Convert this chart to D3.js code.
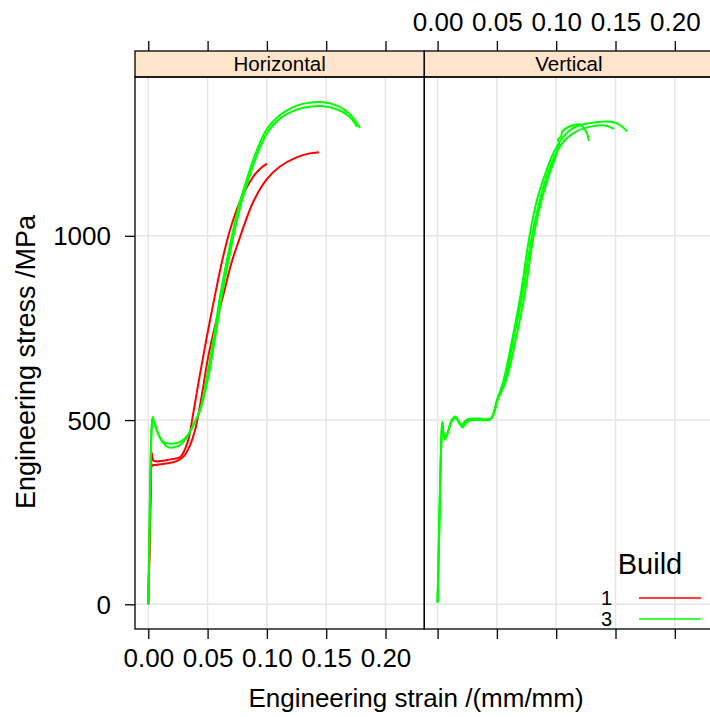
<!DOCTYPE html>
<html lang="en">
    <head>
       <meta charset="utf-8">
       <script src="https://d3js.org/d3.v7.min.js"></script>
       <style>
          body { margin: 0; background: white; }
          text { font-family: "Liberation Sans", Arial, sans-serif; }
       </style>
    </head>
    <body>
        <script>
            var width  = 710;
            var height = 717;

            // panels and legend
            var panels = [ 'Horizontal', 'Vertical' ];
            var builds = [ '1', '3' ];
            var build_colours = [ '#FF0000', '#00FF00' ];

            var x_ticks = [ 0.00, 0.05, 0.10, 0.15, 0.20 ];
            var y_ticks = [ 0, 500, 1000 ];

            // specimens, [strain, stress]
            var horiz_b1_a = [[0,0],[0.001,150],[0.002,330],[0.0025,385],[0.003,411],[0.004,392],[0.006,388],[0.01,389],[0.015,391],[0.02,394],[0.027,400],[0.033,438],[0.038,520],[0.043,614],[0.049,720],[0.056,835],[0.0625,935],[0.0689,1016],[0.0773,1093],[0.0886,1161],[0.095,1184],[0.100,1196]];
            var horiz_b1_b = [[0,0],[0.001,140],[0.002,300],[0.003,376],[0.006,378],[0.01,380],[0.015,382],[0.02,385],[0.025,390],[0.03,402],[0.035,430],[0.04,480],[0.045,565],[0.0506,673],[0.057,765],[0.063,836],[0.07,925],[0.0775,998],[0.0886,1093],[0.0998,1153],[0.111,1188],[0.125,1213],[0.135,1223],[0.144,1227]];
            var horiz_b3_a = [[0,0],[0.001,200],[0.002,400],[0.003,490],[0.0037,508],[0.005,495],[0.008,465],[0.012,440],[0.017,426],[0.022,426],[0.027,433],[0.032,450],[0.0366,478],[0.0436,526],[0.049,609],[0.055,720],[0.0605,836],[0.066,930],[0.0717,1017],[0.077,1090],[0.083,1153],[0.09,1220],[0.0998,1289],[0.11,1325],[0.12,1346],[0.13,1358],[0.146,1363],[0.16,1352],[0.17,1330],[0.1785,1293]];
            var horiz_b3_b = [[0,0],[0.001,190],[0.002,390],[0.003,480],[0.004,500],[0.006,485],[0.009,458],[0.013,440],[0.018,436],[0.023,437],[0.028,443],[0.033,458],[0.038,486],[0.0445,535],[0.0505,615],[0.0565,725],[0.062,836],[0.0675,930],[0.073,1017],[0.0785,1090],[0.0845,1153],[0.092,1222],[0.101,1283],[0.111,1318],[0.121,1337],[0.132,1348],[0.146,1352],[0.16,1342],[0.17,1322],[0.176,1296]];

            var vert_b3_a = [[0,5],[0.001,150],[0.002,300],[0.003,430],[0.0039,496],[0.0048,468],[0.0062,446],[0.009,470],[0.012,500],[0.015,510],[0.018,495],[0.0209,483],[0.0235,495],[0.0264,501],[0.035,502],[0.0447,503],[0.0501,555],[0.0557,609],[0.063,720],[0.07,840],[0.0775,1000],[0.084,1100],[0.091,1170],[0.097,1220],[0.104,1260],[0.112,1288],[0.122,1302],[0.133,1308],[0.143,1310],[0.152,1304],[0.1598,1284]];
            var vert_b3_b = [[0,5],[0.001,145],[0.002,295],[0.003,425],[0.0041,490],[0.005,462],[0.0065,450],[0.0095,476],[0.0125,503],[0.0155,506],[0.0185,490],[0.021,480],[0.024,492],[0.027,499],[0.035,500],[0.0445,502],[0.0505,556],[0.057,609],[0.064,720],[0.0715,840],[0.0795,1000],[0.0865,1100],[0.093,1170],[0.1,1225],[0.108,1262],[0.118,1285],[0.13,1297],[0.14,1300],[0.149,1290]];
            var vert_b3_c = [[0,5],[0.001,155],[0.002,305],[0.003,432],[0.0038,492],[0.0047,472],[0.006,452],[0.0085,465],[0.0115,495],[0.0145,505],[0.0175,498],[0.0205,486],[0.023,497],[0.026,503],[0.035,504],[0.045,505],[0.051,557],[0.058,609],[0.066,720],[0.0735,840],[0.081,1000],[0.088,1100],[0.0945,1170],[0.099,1210],[0.1023,1251],[0.1015,1262],[0.104,1268],[0.1051,1283],[0.1121,1298],[0.1206,1302],[0.1233,1292],[0.126,1278],[0.1276,1257]];

            var specimens = [
                { panel: 0, build: 0, values: horiz_b1_a },
                { panel: 0, build: 0, values: horiz_b1_b },
                { panel: 0, build: 1, values: horiz_b3_a },
                { panel: 0, build: 1, values: horiz_b3_b },
                { panel: 1, build: 1, values: vert_b3_a },
                { panel: 1, build: 1, values: vert_b3_b },
                { panel: 1, build: 1, values: vert_b3_c }
            ];

            // layout
            var panel_left = 135;
            var panel_width = 289.3;
            var panel_top = 77;
            var panel_bottom = 629;
            var strip_top = 51;
            var tick_len = 10;
            var tick_font = 26;

            var x = d3.scaleLinear().domain([-0.0112, 0.2327]).range([0, panel_width]);
            var y = d3.scaleLinear().domain([-67, 1431]).range([panel_bottom, panel_top]);

            var svg = d3.select("body")
                        .append("svg")
                        .attr("width", width)
                        .attr("height", height);

            var line = d3.line()
                         .x(function(d) { return x(d[0]); })
                         .y(function(d) { return y(d[1]); })
                         .curve(d3.curveCatmullRom.alpha(0.5));

            panels.forEach(function(name, i) {
                var g = svg.append("g")
                           .attr("transform", "translate(" + (panel_left + i*panel_width) + ",0)");

                // grid
                g.selectAll(".vgrid")
                 .data(x_ticks)
                 .enter().append("line")
                 .attr("x1", function(d) { return x(d); })
                 .attr("x2", function(d) { return x(d); })
                 .attr("y1", panel_top)
                 .attr("y2", panel_bottom)
                 .attr("stroke", "#E6E6E6")
                 .attr("stroke-width", 1.5);

                g.selectAll(".hgrid")
                 .data(y_ticks)
                 .enter().append("line")
                 .attr("x1", 0)
                 .attr("x2", panel_width)
                 .attr("y1", function(d) { return y(d); })
                 .attr("y2", function(d) { return y(d); })
                 .attr("stroke", "#E6E6E6")
                 .attr("stroke-width", 1.5);

                // curves
                g.selectAll(".curve")
                 .data(specimens.filter(function(s) { return s.panel == i; }))
                 .enter().append("path")
                 .attr("d", function(s) { return line(s.values); })
                 .attr("fill", "none")
                 .attr("stroke", function(s) { return build_colours[s.build]; })
                 .attr("stroke-width", 2)
                 .attr("stroke-linejoin", "round");

                // strip
                g.append("rect")
                 .attr("x", 0)
                 .attr("y", strip_top)
                 .attr("width", panel_width)
                 .attr("height", panel_top - strip_top)
                 .attr("fill", "#FFE5CC")
                 .attr("stroke", "black")
                 .attr("stroke-width", 1.3);

                g.append("text")
                 .attr("x", panel_width/2)
                 .attr("y", 70.5)
                 .attr("text-anchor", "middle")
                 .attr("font-size", 20.5)
                 .text(name);

                // panel border
                g.append("rect")
                 .attr("x", 0)
                 .attr("y", panel_top)
                 .attr("width", panel_width)
                 .attr("height", panel_bottom - panel_top)
                 .attr("fill", "none")
                 .attr("stroke", "black")
                 .attr("stroke-width", 1.3);

                // ticks top and bottom
                var bottom = d3.axisBottom(x).tickValues(x_ticks).tickSize(tick_len)
                               .tickFormat(i == 0 ? d3.format(".2f") : "");
                var top = d3.axisTop(x).tickValues(x_ticks).tickSize(tick_len)
                            .tickFormat(i == 1 ? d3.format(".2f") : "");

                var ab = g.append("g").attr("transform", "translate(0," + panel_bottom + ")").call(bottom);
                var at = g.append("g").attr("transform", "translate(0," + strip_top + ")").call(top);
                [ab, at].forEach(function(a) {
                    a.select(".domain").remove();
                    a.selectAll("line").attr("stroke", "black").attr("stroke-width", 1.3);
                    a.selectAll("text").attr("font-size", tick_font).attr("fill", "black")
                     .attr("font-family", "Liberation Sans, Arial, sans-serif");
                });
                ab.selectAll("text").attr("y", 0).attr("dy", 0).attr("transform", "translate(0,38)");
                at.selectAll("text").attr("y", 0).attr("dy", 0).attr("transform", "translate(0,-20.5)");
            });

            // y axis on the left
            var left = d3.axisLeft(y).tickValues(y_ticks).tickSize(tick_len).tickFormat(d3.format("d"));
            var al = svg.append("g").attr("transform", "translate(" + panel_left + ",0)").call(left);
            al.select(".domain").remove();
            al.selectAll("line").attr("stroke", "black").attr("stroke-width", 1.3);
            al.selectAll("text").attr("font-size", tick_font).attr("fill", "black")
              .attr("font-family", "Liberation Sans, Arial, sans-serif")
              .attr("x", -24).attr("dy", "0.35em");

            // axis titles
            svg.append("text")
               .attr("x", 416)
               .attr("y", 706.5)
               .attr("text-anchor", "middle")
               .attr("font-size", 26)
               .text("Engineering strain /(mm/mm)");

            svg.append("text")
               .attr("transform", "translate(35,362) rotate(-90)")
               .attr("text-anchor", "middle")
               .attr("font-size", 27)
               .text("Engineering stress /MPa");

            // legend
            svg.append("text")
               .attr("x", 650)
               .attr("y", 574)
               .attr("text-anchor", "middle")
               .attr("font-size", 29)
               .text("Build");

            builds.forEach(function(b, i) {
                var ly = 598 + i*21;
                svg.append("text")
                   .attr("x", 612)
                   .attr("y", ly)
                   .attr("dy", "0.35em")
                   .attr("text-anchor", "end")
                   .attr("font-size", 20)
                   .text(b);
                svg.append("line")
                   .attr("x1", 639)
                   .attr("x2", 701)
                   .attr("y1", ly)
                   .attr("y2", ly)
                   .attr("stroke", build_colours[i])
                   .attr("stroke-width", 1.5);
            });
        </script>
    </body>
</html>
